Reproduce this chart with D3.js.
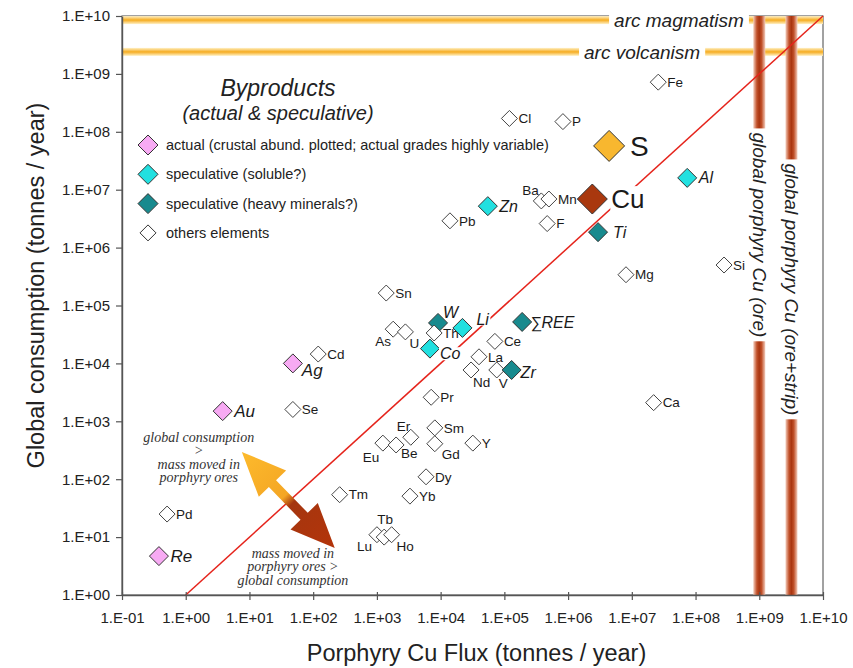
<!DOCTYPE html>
<html>
<head>
<meta charset="utf-8">
<script src="https://cdn.jsdelivr.net/npm/d3@7"></script>
<style>
  body { margin: 0; background: #fff; }
  svg { display: block; font-family: "Liberation Sans", Arial, Helvetica, sans-serif; }
</style>
</head>
<body>
<div id="graf"></div>
<script>
// Datos
const elements = ["Cl", "P", "Fe", "Ba", "Mn", "F", "Pb", "Mg", "Si", "Ca", "Sn", "As", "U", "Cd", "Se", "Pd",
  "Ce", "La", "Nd", "V", "Pr", "Er", "Sm", "Gd", "Y", "Eu", "Be", "Dy", "Yb", "Tm", "Lu", "Tb", "Ho",
  "W", "Th", "Co", "Li", "Zn", "Al", "Ti", "∑REE", "Zr", "Ag", "Au", "Re", "S", "Cu"]

const flux = [1.2e5, 8.3e5, 2.6e7, 3.8e5, 5.0e5, 4.7e5, 1.4e4, 8.1e6, 2.8e8, 2.2e7, 1.4e3, 1.8e3, 2.8e3, 1.2e2, 48, 0.51,
  7.1e4, 4.0e4, 3.0e4, 7.6e4, 7.1e3, 3.4e3, 8.1e3, 8.1e3, 3.2e4, 1.24e3, 2.0e3, 5.9e3, 3.3e3, 2.6e2, 1.0e3, 1.3e3, 1.7e3,
  9.1e3, 7.9e3, 6.8e3, 2.2e4, 5.5e4, 7.4e7, 2.95e6, 1.9e5, 1.3e5, 48, 3.8, 0.38, 4.4e6, 2.4e6]

const consumption = [1.7e8, 1.5e8, 7.2e8, 6.4e6, 6.9e6, 2.6e6, 2.9e6, 3.4e5, 5.0e5, 2.1e3, 1.64e5, 3.9e4, 3.5e4, 1.45e4, 1.6e3, 25,
  2.4e4, 1.3e4, 7.7e3, 7.7e3, 2.6e3, 5.3e2, 7.7e2, 4.1e2, 4.2e2, 4.2e2, 3.9e2, 1.1e2, 51, 54, 11, 10, 11,
  5.0e4, 3.35e4, 1.8e4, 4.1e4, 5.2e6, 1.6e7, 1.85e6, 5.2e4, 7.7e3, 1.0e4, 1.5e3, 4.7, 5.7e7, 6.9e6]

const kinds = ["other", "other", "other", "other", "other", "other", "other", "other", "other", "other", "other", "other", "other", "other", "other", "other",
  "other", "other", "other", "other", "other", "other", "other", "other", "other", "other", "other", "other", "other", "other", "other", "other", "other",
  "heavy", "other", "soluble", "soluble", "soluble", "soluble", "heavy", "heavy", "heavy", "actual", "actual", "actual", "sulfur", "copper"]

const legendKinds = ["actual", "soluble", "heavy", "other"]
const legendLabels = [
  "actual (crustal abund. plotted; actual grades highly variable)",
  "speculative (soluble?)",
  "speculative (heavy minerals?)",
  "others elements"
]

const xTicks = [1e-1, 1e0, 1e1, 1e2, 1e3, 1e4, 1e5, 1e6, 1e7, 1e8, 1e9, 1e10]
const yTicks = [1e0, 1e1, 1e2, 1e3, 1e4, 1e5, 1e6, 1e7, 1e8, 1e9, 1e10]

// Bandas de referencia
const hBandNames = ["arc magmatism", "arc volcanism"]
const hBandValues = [8.5e9, 2.4e9]
const hBandTextX = [5.5e7, 1.45e7]
const vBandNames = ["global porphyry Cu (ore)", "global porphyry Cu (ore+strip)"]
const vBandValues = [1e9, 3.2e9]
const vBandTextY = [1.66e6, 1.9e5]

// Flecha doble (puntas en coordenadas de datos)
const arrowFrom = [7.6, 295]
const arrowTo = [218, 6.5]
const arrowTextTop = ["global consumption", ">", "mass moved in", "porphyry ores"]
const arrowTextBottom = ["mass moved in", "porphyry ores >", "global consumption"]

// Estilos por tipo
const styles = {
  other: { fill: "#fff", r: 8, size: 13.5, italic: false },
  actual: { fill: "#f7aaf3", r: 9.5, size: 17, italic: true },
  soluble: { fill: "#22e0e0", r: 9.5, size: 16, italic: true },
  heavy: { fill: "#188a8e", r: 9.5, size: 16, italic: true },
  sulfur: { fill: "#f8b72f", r: 15.5, size: 28, italic: false },
  copper: { fill: "#a9380e", r: 15, size: 26, italic: false }
}

// Posicion de etiquetas fuera de lo normal [dx, dy]
const labelOffset = {
  "Ba": [-19, -11], "Er": [-14, -11], "Eu": [-20, 14], "Be": [5, 8], "Gd": [7, 11],
  "Tb": [-7, -18], "Lu": [-20, 12], "Ho": [5, 12], "As": [-18, 12], "U": [4, 11],
  "Nd": [2, 12], "V": [2, 13], "W": [5, -11], "Li": [14, -9], "Co": [10, 5],
  "Ag": [9, 7], "Ti": [15, 0], "Zr": [9, 2], "∑REE": [8, 0], "S": [21, 0], "Cu": [19, 0]
}
const haloLabels = new Set(["Cu", "Li", "Co"])

const fmt = (d) => {
  const e = Math.round(Math.log10(d))
  return "1.E" + (e < 0 ? "-" : "+") + String(Math.abs(e)).padStart(2, "0")
}

const diamond = (cx, cy, r) => `M${cx},${cy - r}L${cx + r},${cy}L${cx},${cy + r}L${cx - r},${cy}Z`

const draw = () => {
  const anchoTotal = 853
  const altoTotal = 668
  const margins = { top: 16, right: 30, bottom: 73, left: 122 }

  const svg = d3.select("#graf")
    .append("svg")
    .attr("width", anchoTotal)
    .attr("height", altoTotal)

  svg.append("rect").attr("width", anchoTotal).attr("height", altoTotal).attr("fill", "#fff")

  const x = d3.scaleLog().domain([1e-1, 1e10]).range([margins.left, anchoTotal - margins.right])
  const y = d3.scaleLog().domain([1, 1e10]).range([altoTotal - margins.bottom, margins.top])
  const [x0, x1] = x.range()
  const [y0, y1] = y.range()

  const defs = svg.append("defs")

  const hGrad = defs.append("linearGradient").attr("id", "hGrad")
    .attr("x1", 0).attr("y1", 0).attr("x2", 0).attr("y2", 1)
  hGrad.append("stop").attr("offset", 0).attr("stop-color", "#fff1c6")
  hGrad.append("stop").attr("offset", 0.5).attr("stop-color", "#f6ac20")
  hGrad.append("stop").attr("offset", 1).attr("stop-color", "#fff1c6")

  const vGrad = defs.append("linearGradient").attr("id", "vGrad")
    .attr("x1", 0).attr("y1", 0).attr("x2", 1).attr("y2", 0)
  vGrad.append("stop").attr("offset", 0).attr("stop-color", "#f3cdbd")
  vGrad.append("stop").attr("offset", 0.3).attr("stop-color", "#c1512a")
  vGrad.append("stop").attr("offset", 0.5).attr("stop-color", "#a93510")
  vGrad.append("stop").attr("offset", 0.7).attr("stop-color", "#c1512a")
  vGrad.append("stop").attr("offset", 1).attr("stop-color", "#f3cdbd")

  // Marco
  svg.append("rect")
    .attr("x", x0).attr("y", y1)
    .attr("width", x1 - x0).attr("height", y0 - y1)
    .attr("fill", "none").attr("stroke", "#444").attr("stroke-width", 1)

  // Bandas horizontales
  hBandValues.forEach((v, i) => {
    svg.append("rect")
      .attr("x", x0).attr("y", y(v) - 4)
      .attr("width", x1 - x0).attr("height", 8)
      .attr("fill", "url(#hGrad)")
  })

  // Bandas verticales
  vBandValues.forEach((v) => {
    svg.append("rect")
      .attr("x", x(v) - 6).attr("y", y1)
      .attr("width", 12).attr("height", y0 - y1)
      .attr("fill", "url(#vGrad)")
  })

  // Textos de bandas con fondo blanco
  hBandNames.forEach((name, i) => {
    const t = svg.append("text")
      .attr("x", x(hBandTextX[i])).attr("y", y(hBandValues[i]))
      .attr("text-anchor", "middle").attr("dy", "0.35em")
      .attr("font-size", 19).attr("font-style", "italic").attr("fill", "#222")
      .text(name)
    const b = t.node().getBBox()
    svg.insert("rect", () => t.node())
      .attr("x", b.x - 5).attr("y", y(hBandValues[i]) - 6)
      .attr("width", b.width + 10).attr("height", 12).attr("fill", "#fff")
  })

  vBandNames.forEach((name, i) => {
    const cx = x(vBandValues[i])
    const cy = y(vBandTextY[i])
    const t = svg.append("text")
      .attr("transform", `translate(${cx}, ${cy}) rotate(90)`)
      .attr("text-anchor", "middle").attr("dy", "0.35em")
      .attr("font-size", 19).attr("font-style", "italic").attr("fill", "#222")
      .text(name)
    const b = t.node().getBBox()
    svg.insert("rect", () => t.node())
      .attr("x", cx - 8).attr("y", cy - b.width / 2 - 4)
      .attr("width", 16).attr("height", b.width + 8).attr("fill", "#fff")
  })

  // Linea 1:1
  svg.append("line")
    .attr("x1", x(1)).attr("y1", y(1))
    .attr("x2", x(1e10)).attr("y2", y(1e10))
    .attr("stroke", "#e5231b").attr("stroke-width", 1.5)

  // Ejes
  const xAxis = svg.append("g")
    .attr("transform", `translate(0, ${y0})`)
    .call(d3.axisBottom(x).tickValues(xTicks).tickFormat(fmt).tickSize(5).tickSizeOuter(0))
  xAxis.selectAll(".tick line").attr("y1", -3)
  xAxis.selectAll(".tick text").attr("y", 17)

  const yAxis = svg.append("g")
    .attr("transform", `translate(${x0}, 0)`)
    .call(d3.axisLeft(y).tickValues(yTicks).tickFormat(fmt).tickSize(6).tickPadding(6).tickSizeOuter(0))

  ;[xAxis, yAxis].forEach((a) => {
    a.select(".domain").attr("stroke", "#555").attr("stroke-width", 1.4)
    a.selectAll(".tick line").attr("stroke", "#555").attr("stroke-width", 1.2)
    a.selectAll(".tick text")
      .attr("font-size", 15).attr("fill", "#222")
      .attr("font-family", "'Liberation Sans', Arial, sans-serif")
  })

  // Titulos de ejes
  svg.append("text")
    .attr("x", (x0 + x1) / 2 + 4).attr("y", 653)
    .attr("text-anchor", "middle").attr("dy", "0.35em")
    .attr("font-size", 23.5).attr("fill", "#222")
    .text("Porphyry Cu Flux (tonnes / year)")

  svg.append("text")
    .attr("transform", `translate(36, ${(y0 + y1) / 2 - 20}) rotate(-90)`)
    .attr("text-anchor", "middle").attr("dy", "0.35em")
    .attr("font-size", 23.5).attr("fill", "#222")
    .text("Global consumption (tonnes / year)")

  // Leyenda
  svg.append("text")
    .attr("x", 278).attr("y", 88).attr("dy", "0.35em")
    .attr("text-anchor", "middle").attr("font-size", 23).attr("font-style", "italic").attr("fill", "#222")
    .text("Byproducts")
  svg.append("text")
    .attr("x", 278).attr("y", 113).attr("dy", "0.35em")
    .attr("text-anchor", "middle").attr("font-size", 20).attr("font-style", "italic").attr("fill", "#222")
    .text("(actual & speculative)")

  legendKinds.forEach((k, i) => {
    const st = styles[k]
    const ly = 145 + i * 29.3
    svg.append("path")
      .attr("d", diamond(148, ly, k === "other" ? 8 : 10))
      .attr("fill", st.fill).attr("stroke", "#333").attr("stroke-width", 1)
    svg.append("text")
      .attr("x", 166).attr("y", ly).attr("dy", "0.35em")
      .attr("font-size", 14.5).attr("fill", "#222")
      .text(legendLabels[i])
  })

  // Puntos con etiquetas
  const data = elements.map((name, i) => ({ name, flux: flux[i], consumption: consumption[i], kind: kinds[i] }))

  const points = svg.append("g")
    .selectAll("g")
    .data(data)
    .join("g")

  points.append("path")
    .attr("d", (d) => diamond(x(d.flux), y(d.consumption), styles[d.kind].r))
    .attr("fill", (d) => styles[d.kind].fill)
    .attr("stroke", (d) => d.kind === "other" ? "#444" : "#333")
    .attr("stroke-width", 1)

  points.append("text")
    .attr("x", (d) => {
      const off = labelOffset[d.name]
      const dx = off ? off[0] : styles[d.kind].r + (d.kind === "other" ? 1 : 2)
      return x(d.flux) + dx
    })
    .attr("y", (d) => y(d.consumption) + (labelOffset[d.name] ? labelOffset[d.name][1] : 0))
    .attr("dy", "0.35em")
    .attr("font-size", (d) => styles[d.kind].size)
    .attr("font-style", (d) => styles[d.kind].italic ? "italic" : "normal")
    .attr("fill", "#1a1a1a")
    .text((d) => d.name)
    .each(function (d) {
      if (!haloLabels.has(d.name)) return
      const b = this.getBBox()
      d3.select(this.parentNode).insert("rect", () => this)
        .attr("x", b.x - 1).attr("y", b.y + 2)
        .attr("width", b.width + 2).attr("height", b.height - 4)
        .attr("fill", "#fff")
    })

  // Flecha doble con degradado
  const p0 = [x(arrowFrom[0]), y(arrowFrom[1])]
  const p1 = [x(arrowTo[0]), y(arrowTo[1])]
  const aGrad = defs.append("linearGradient").attr("id", "aGrad")
    .attr("gradientUnits", "userSpaceOnUse")
    .attr("x1", p0[0]).attr("y1", p0[1]).attr("x2", p1[0]).attr("y2", p1[1])
  aGrad.append("stop").attr("offset", 0).attr("stop-color", "#fdba2c")
  aGrad.append("stop").attr("offset", 0.46).attr("stop-color", "#f4a624")
  aGrad.append("stop").attr("offset", 0.54).attr("stop-color", "#a5360f")
  aGrad.append("stop").attr("offset", 1).attr("stop-color", "#b3340a")

  const L = Math.hypot(p1[0] - p0[0], p1[1] - p0[1])
  const ux = (p1[0] - p0[0]) / L
  const uy = (p1[1] - p0[1]) / L
  const pt = (s, t) => [p0[0] + ux * s - uy * t, p0[1] + uy * s + ux * t]
  const head = 44
  const half = 19
  const shaft = 5
  const arrowPts = [pt(0, 0), pt(head, half), pt(head, shaft), pt(L - head, shaft), pt(L - head, half),
    pt(L, 0), pt(L - head, -half), pt(L - head, -shaft), pt(head, -shaft), pt(head, -half)]

  svg.append("path")
    .attr("d", d3.line()(arrowPts) + "Z")
    .attr("fill", "url(#aGrad)")

  const serif = "'Liberation Serif', 'Times New Roman', serif"
  arrowTextTop.forEach((line, i) => {
    svg.append("text")
      .attr("x", x(1.6)).attr("y", y(537) + i * 13.4).attr("dy", "0.35em")
      .attr("text-anchor", "middle").attr("font-family", serif)
      .attr("font-size", 14).attr("font-style", "italic").attr("fill", "#333")
      .text(line)
  })
  arrowTextBottom.forEach((line, i) => {
    svg.append("text")
      .attr("x", x(48)).attr("y", y(5.3) + i * 13.4).attr("dy", "0.35em")
      .attr("text-anchor", "middle").attr("font-family", serif)
      .attr("font-size", 14).attr("font-style", "italic").attr("fill", "#333")
      .text(line)
  })
}

draw()
</script>
</body>
</html>
